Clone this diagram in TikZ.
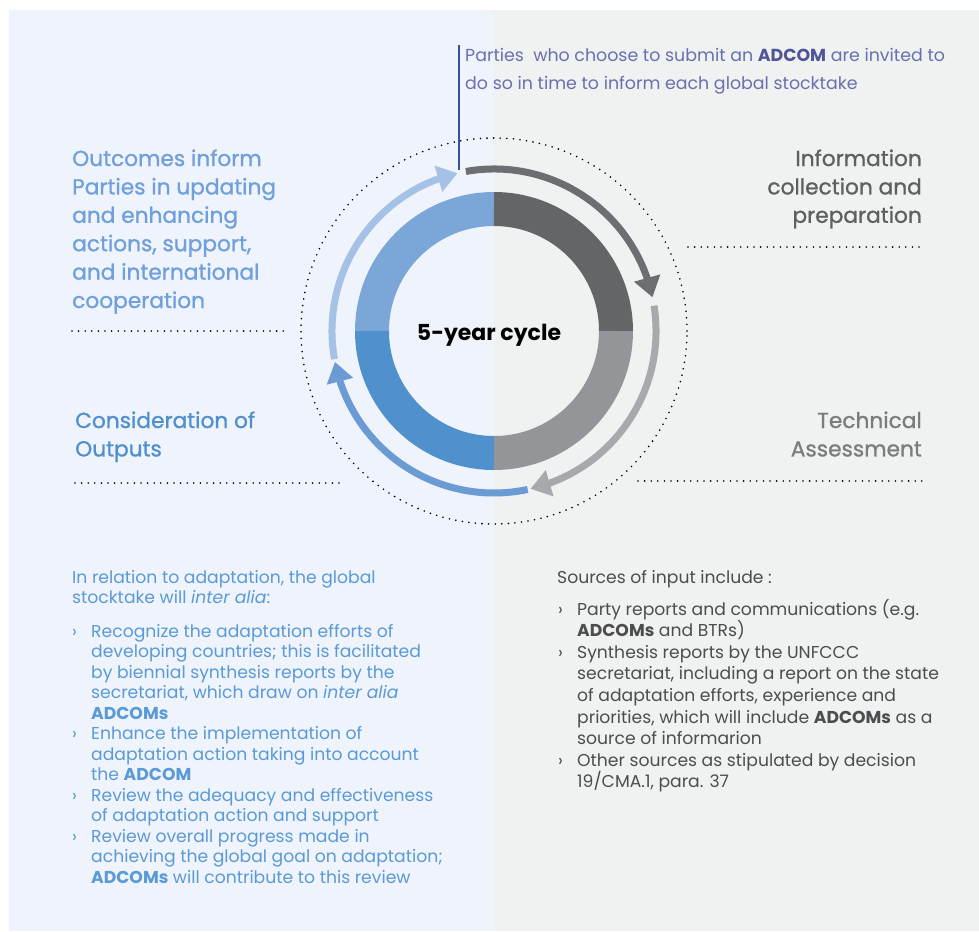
\documentclass[tikz,border=0pt]{standalone}
\usepackage{fontspec}
\setmainfont{Poppins}
\newfontfamily\headfont[FakeBold=1]{Poppins}
\usetikzlibrary{arrows.meta}
\usetikzlibrary{bending}
\usetikzlibrary{positioning}

\definecolor{paneblue}{HTML}{EFF3FB}
\definecolor{panegrey}{HTML}{F0F1F1}
\definecolor{qtl}{HTML}{7BA7D8}
\definecolor{qbl}{HTML}{4F90CD}
\definecolor{qtr}{HTML}{646567}
\definecolor{qbr}{HTML}{939598}
\definecolor{arrdark}{HTML}{6D6E71}
\definecolor{arrgrey}{HTML}{A7A9AC}
\definecolor{arrblue}{HTML}{6A9BD3}
\definecolor{arrlight}{HTML}{A5C1E5}
\definecolor{notecol}{HTML}{6A6FAF}
\definecolor{notebold}{HTML}{50559A}
\definecolor{notebar}{HTML}{3550A0}
\definecolor{headlight}{HTML}{6FA0DC}
\definecolor{headblue}{HTML}{4F8FCD}
\definecolor{headdark}{HTML}{5E5F61}
\definecolor{headgrey}{HTML}{7B7C7E}
\definecolor{textblue}{HTML}{5A9AD6}
\definecolor{textgrey}{HTML}{4D4D4F}

\newcommand{\bul}{\makebox[19pt][l]{›}}
\newcommand{\cont}{\hspace*{19pt}}

\begin{document}
\begin{tikzpicture}[
    x=1pt, y=1pt,
    quad/.style={line width=34pt},
    cyc/.style={line width=7pt, -{Triangle[width=26pt,length=20pt]}},
    dotline/.style={line width=1.8pt, line cap=round, dash pattern=on 0pt off 6.6pt},
    head/.style={inner sep=0pt, align=left, font=\headfont\fontsize{21.7}{28.4}\selectfont},
    body/.style={inner sep=0pt, align=left, font=\fontsize{17.2}{20.5}\selectfont}
]
\useasboundingbox (0,0) rectangle (979,-931);
% panels
\fill[paneblue] (9,-10) rectangle (494,-931);
\fill[panegrey] (494,-10) rectangle (979,-931);

\coordinate (ctr) at (494,-331);

% ring
\draw[quad, qtl] (ctr) ++(180:122) arc[start angle=180, end angle=90, radius=122];
\draw[quad, qtr] (ctr) ++(90:122) arc[start angle=90, end angle=0, radius=122];
\draw[quad, qbr] (ctr) ++(0:122) arc[start angle=0, end angle=-90, radius=122];
\draw[quad, qbl] (ctr) ++(-90:122) arc[start angle=-90, end angle=-180, radius=122];
\node[font=\bfseries\fontsize{22}{26}\selectfont] (cycle) at (489,-335) {5-year cycle};

% outer dotted circle
\draw[dotline] (ctr) circle[radius=193];

% cycle arrows
\draw[cyc, arrdark] (ctr) ++(100:162) arc[start angle=100, end angle=12, radius=162];
\draw[cyc, arrgrey] (ctr) ++(9:162) arc[start angle=9, end angle=-77, radius=162];
\draw[cyc, arrblue] (ctr) ++(-78:162) arc[start angle=-78, end angle=-169, radius=162];
\draw[cyc, arrlight] (ctr) ++(190:162) arc[start angle=190, end angle=103, radius=162];

% note on top (base = last line)
\coordinate (bartop) at (459,-45);
\coordinate (barbot) at (459,-170);
\draw[notebar, line width=1.6pt] (bartop) -- (barbot);
\node[anchor=base west, inner sep=0pt, align=left, text=notecol,
      font=\fontsize{17.4}{28.3}\selectfont] (note) at (465,-89.8)
  {Parties\ \ who choose to submit an \textbf{\color{notebold}ADCOM} are invited to\\
   do so in time to inform each global stocktake};

% stage labels
\node[head, anchor=base west, text=headlight] (outcomes) at (72,-308)
  {Outcomes inform\\Parties in updating\\and enhancing\\actions, support,\\and international\\cooperation};
\node[head, anchor=base east, align=right, text=headdark] (info) at (922,-222.8)
  {Information\\collection and\\preparation};
\node[head, anchor=base east, align=right, text=headgrey] (tech) at (922,-456.4)
  {Technical\\Assessment};
\node[head, anchor=base west, text=headblue] (consid) at (75,-456.4)
  {Consideration of\\Outputs};

% dotted rules
\coordinate (lu1) at (72,-331);  \coordinate (lu2) at (287,-331);
\coordinate (ru1) at (688,-247); \coordinate (ru2) at (921,-247);
\coordinate (ll1) at (75,-483);  \coordinate (ll2) at (345,-483);
\coordinate (rl1) at (638,-481); \coordinate (rl2) at (922,-481);
\draw[dotline] (lu1) -- (lu2);
\draw[dotline] (ru1) -- (ru2);
\draw[dotline] (ll1) -- (ll2);
\draw[dotline] (rl1) -- (rl2);

% adaptation text
\node[body, anchor=base west, text=textblue] (adapt) at (72,-603.5)
  {In relation to adaptation, the global\\stocktake will \textit{inter alia}:};
\node[body, anchor=base west, text=textblue] (adaptlist) at (72,-883)
  {\bul Recognize the adaptation efforts of\\
   \cont developing countries; this is facilitated\\
   \cont by biennial synthesis reports by the\\
   \cont secretariat, which draw on \textit{inter alia}\\
   \cont \textbf{ADCOMs}\\
   \bul Enhance the implementation of\\
   \cont adaptation action taking into account\\
   \cont the \textbf{ADCOM}\\
   \bul Review the adequacy and effectiveness\\
   \cont of adaptation action and support\\
   \bul Review overall progress made in\\
   \cont achieving the global goal on adaptation;\\
   \cont \textbf{ADCOMs} will contribute to this review};

% sources text
\node[body, anchor=base west, text=textgrey] (sources) at (557,-583)
  {Sources of input include :};
\node[body, anchor=base west, text=textgrey, font=\fontsize{17.2}{21.6}\selectfont] (srclist) at (558,-787.8)
  {\bul Party reports and communications (e.g.\\
   \cont \textbf{ADCOMs} and BTRs)\\
   \bul Synthesis reports by the UNFCCC\\
   \cont secretariat, including a report on the state\\
   \cont of adaptation efforts, experience and\\
   \cont priorities, which will include \textbf{ADCOMs} as a\\
   \cont source of informarion\\
   \bul Other sources as stipulated by decision\\
   \cont 19/CMA.1, para. 37};
\end{tikzpicture}
\end{document}
